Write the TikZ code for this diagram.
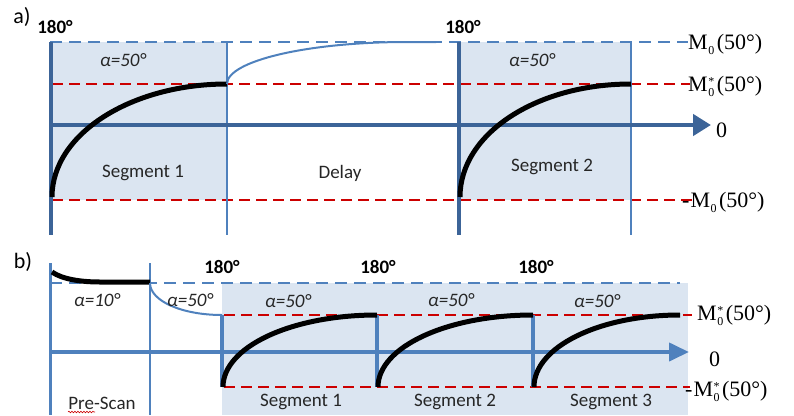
\documentclass[tikz,border=0pt]{standalone}
\usepackage{fontspec}
\setmainfont{Liberation Serif}
\newfontfamily\calfont{Carlito}
\usetikzlibrary{arrows.meta,decorations.pathmorphing}
\definecolor{shadebg}{RGB}{219,229,241}
\definecolor{darkblue}{RGB}{60,100,152}
\definecolor{midblue}{RGB}{79,129,189}
\definecolor{myred}{RGB}{204,0,0}
\newcommand{\subz}{\raisebox{-0.5ex}{\fontsize{12}{12}\selectfont 0}}
\newcommand{\Mz}{M\kern0.5pt\subz\kern2.5pt}
\newcommand{\Ms}{M\kern0.5pt\raisebox{-0.5ex}{\fontsize{12}{8}\selectfont\shortstack[l]{*\\0}}\kern2.5pt}
\begin{document}
\begin{tikzpicture}[x=1pt,y=-1pt,
  lbl/.style={font=\fontsize{22}{22}\selectfont, inner sep=0pt, anchor=west},
  sans/.style={font=\calfont\fontsize{19}{19}\selectfont, text=black!85, inner sep=0pt},
  degl/.style={font=\calfont\bfseries\fontsize{19}{19}\selectfont, inner sep=0pt},
  alp/.style={font=\calfont\itshape\fontsize{19}{19}\selectfont, text=black!85, inner sep=0pt},
  reddash/.style={draw=myred, line width=2.4pt, dash pattern=on 11pt off 6pt},
  bluedash/.style={draw=midblue, line width=2.2pt, dash pattern=on 12pt off 7pt},
  thickv/.style={draw=darkblue, line width=4.5pt},
  thinv/.style={draw=midblue, line width=2pt},
  midv/.style={draw=midblue, line width=4pt},
  curve/.style={draw=black, line width=5pt},
  thincurve/.style={draw=midblue, line width=2pt},
]
\useasboundingbox (0,0) rectangle (794,415);

% ---------------- part a ----------------
\fill[shadebg] (50,42) rectangle (227,200);
\fill[shadebg] (459,42) rectangle (631,200);
\draw[bluedash] (50,42) -- (688,42);
\draw[reddash] (52,84) -- (690,84);
\draw[reddash] (52,200) -- (692,200);
\draw[thinv] (227,42) -- (227,235);
\draw[thinv] (631,42) -- (631,235);
\draw[thickv] (51,42) -- (51,235);
\draw[thickv] (459,42) -- (459,235);
\draw[darkblue, line width=4.5pt, -{Triangle[length=18pt,width=21pt]}] (49,125) -- (711,125);
\draw[curve] (52,197) .. controls (52,134) and (131,84) .. (227,84);
\draw[curve] (460,197) .. controls (460,134) and (536,84) .. (631,84);
\draw[thincurve] (227,84) .. controls (227,61) and (307,42) .. (407,42) -- (436,42);

\node (la) at (22,17) {\calfont\fontsize{22}{22}\selectfont a)};
\node[degl] (a180a) at (55,27) {180°};
\node[degl] (a180b) at (463,27) {180°};
\node[alp] (aal1) at (123,60) {α=50°};
\node[alp] (aal2) at (532,60) {α=50°};
\node[sans] (aseg1) at (143,173) {Segment 1};
\node[sans] (adel) at (340,173) {Delay};
\node[sans] (aseg2) at (552,167) {Segment 2};
\node[lbl] (am0) at (688,44) {\Mz(50°)};
\node[lbl] (ams) at (688,86) {\Ms(50°)};
\node[lbl] (azero) at (716,130) {0};
\node[lbl] (amm) at (682,202) {-\kern1pt\Mz(50°)};

% ---------------- part b ----------------
\fill[shadebg] (222,283) rectangle (688,415);
\draw[bluedash] (50,283) -- (680,283);
\draw[reddash] (224,315) -- (692,315);
\draw[reddash] (224,387) -- (690,387);
\draw[midblue, line width=3pt] (50,263) -- (50,415);
\draw[midblue, line width=2pt] (150,263) -- (150,415);
\draw[midv] (222,315) -- (222,387);
\draw[midv] (377,315) -- (377,387);
\draw[midv] (533,315) -- (533,387);
\draw[midblue, line width=4pt, -{Triangle[length=20pt,width=18pt]}] (49,352) -- (689,352);
\draw[curve] (52,272) .. controls (62,279) and (80,282) .. (100,282) -- (150,282);
\draw[thincurve] (150,283) .. controls (150,301) and (182,315) .. (222,315);
\draw[curve] (223,387) .. controls (223,347) and (291,315) .. (377,315);
\draw[curve] (378,387) .. controls (378,347) and (447,315) .. (533,315);
\draw[curve] (534,387) .. controls (534,347) and (599,315) .. (680,315);

\node (lb) at (23,262) {\calfont\fontsize{22}{22}\selectfont b)};
\node[degl] (b180a) at (222,267) {180°};
\node[degl] (b180b) at (378,267) {180°};
\node[degl] (b180c) at (536,267) {180°};
\node[alp] (bal0) at (97,300) {α=10°};
\node[alp] (bal1) at (190,300) {α=50°};
\node[alp] (bal2) at (288,301) {α=50°};
\node[alp] (bal3) at (451,300) {α=50°};
\node[alp] (bal4) at (597,301) {α=50°};
\node[sans] (bpre) at (102,403) {Pre-Scan};
\draw[myred, line width=0.6pt, decorate, decoration={snake, amplitude=0.8pt, segment length=3pt}] (68,412) -- (95,412);
\node[sans] (bseg1) at (301,402) {Segment 1};
\node[sans] (bseg2) at (455,402) {Segment 2};
\node[sans] (bseg3) at (611,402) {Segment 3};
\node[lbl] (bms) at (697,315) {\Ms(50°)};
\node[lbl] (bzero) at (709,359) {0};
\node[lbl] (bmm) at (685,391) {-\kern1pt\Ms(50°)};
\end{tikzpicture}
\end{document}
